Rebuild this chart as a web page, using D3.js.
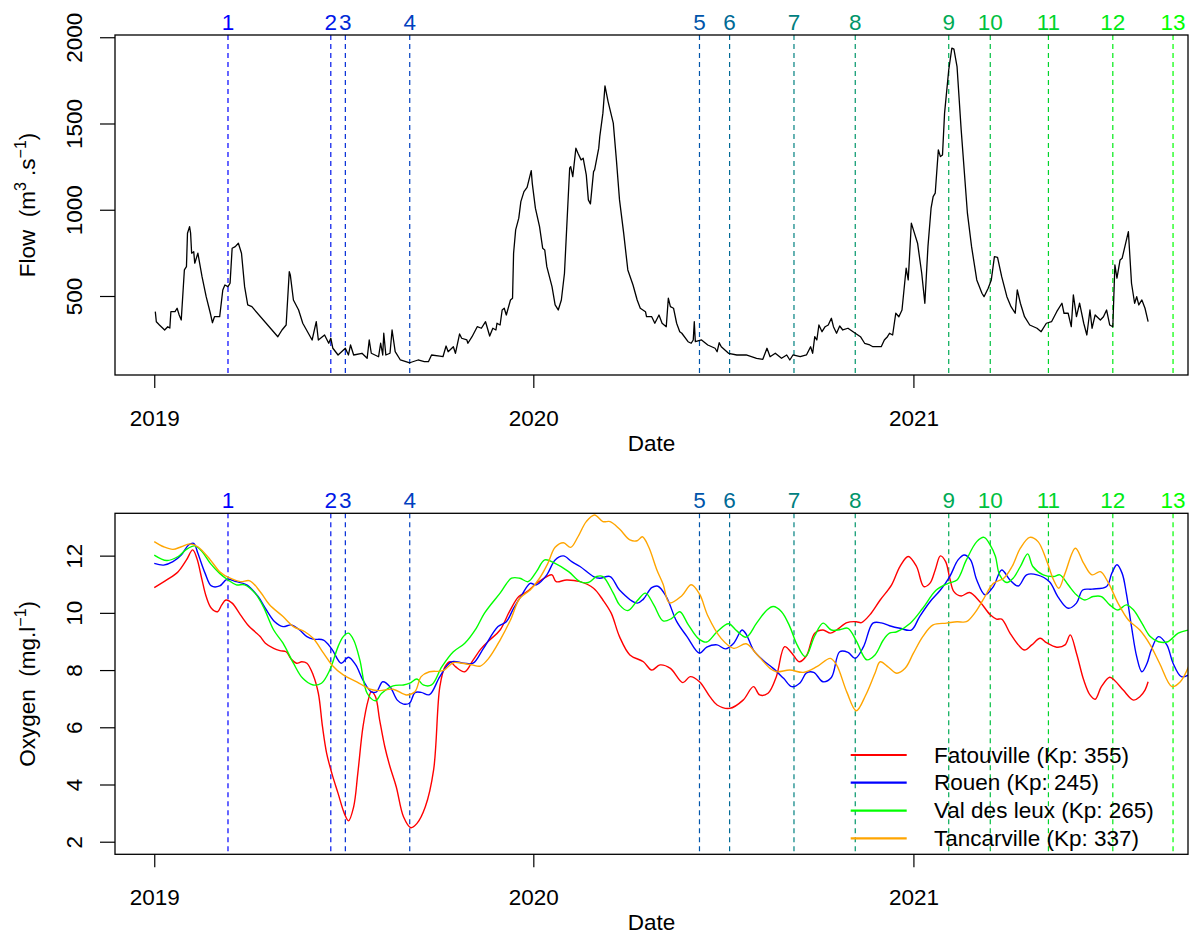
<!DOCTYPE html>
<html><head><meta charset="utf-8">
<script src="https://cdn.jsdelivr.net/npm/d3@7"></script>
<style>
body{margin:0;background:#fff}
text{font-family:"Liberation Sans",Arial,Helvetica,sans-serif;fill:#000}
</style>
</head><body>
<svg id="chart" width="1190" height="936"></svg>
<script>
// ---------- DATA ----------
const startDate = "2019-01-01";           // day 0 of the day arrays
const yearTicks = ["2019-01-01","2020-01-01","2021-01-01"];
const yearLabels = ["2019","2020","2021"];
const flowTicks = [500,1000,1500,2000];
const oxygenTicks = [2,4,6,8,10,12];

const eventDates = ["2019-03-13","2019-06-20","2019-07-04","2019-09-04","2020-06-09","2020-07-08",
  "2020-09-08","2020-11-06","2021-02-04","2021-03-16","2021-05-11","2021-07-12","2021-09-08"];
const eventLabels = ["1","2","3","4","5","6","7","8","9","10","11","12","13"];
const eventColors = ["#0000FF","#0015EA","#002BD5","#0040BF","#0055AA","#006A95","#008080",
  "#00956A","#00AA55","#00BF40","#00D42B","#00EA15","#00FF00"];

// Flow (m3/s), days since 2019-01-01
const flowDay = [1,2,5,10,13,15,16,20,22,24,26,29,31,32,34,35,36,38,39,42,46,50,54,56,58,63,66,68,71,73,75,78,81,84,87,90,94,
 119,123,127,130,131,134,139,143,152,156,158,164,168,170,172,177,184,187,189,192,200,205,207,209,216,218,220,221,223,227,229,232,237,246,254,260,
 264,267,275,278,281,283,288,290,294,296,301,302,306,311,315,319,323,326,329,330,333,335,337,339,343,345,346,348,351,353,356,359,363,364,367,371,374,376,378,383,386,389,392,395,398,400,401,403,406,408,411,413,416,418,420,423,424,428,429,432,434,437,442,445,448,452,456,461,465,468,473,474,479,482,486,489,493,495,497,500,503,506,
 508,514,517,519,520,521,527,533,540,542,544,546,553,561,570,580,586,590,593,598,604,609,612,615,622,628,632,634,636,638,640,643,646,649,652,654,657,660,663,668,675,680,684,689,692,700,703,706,708,711,714,717,720,
 724,726,729,731,735,739,742,745,748,750,752,755,757,759,761,765,768,770,773,777,783,787,792,797,799,803,806,809,812,816,821,825,829,831,834,838,843,850,854,859,864,869,874,876,880,883,885,888,891,895,898,901,903,906,911,914,917,920,923,925,927,930,932,935,938,941,944,946,948,951,954,957];
const flowValue = [409,351,332,303,322,314,409,409,429,390,361,651,670,864,902,864,748,757,690,748,612,496,400,345,380,380,535,564,554,574,777,786,806,748,554,448,438,
 264,303,332,641,622,477,419,342,245,351,245,274,226,255,197,158,197,158,216,158,168,139,245,168,148,226,158,284,158,168,303,177,129,113,129,119,
 119,158,152,148,210,177,206,168,280,255,245,226,264,322,313,351,268,313,303,342,332,419,429,390,477,487,748,883,951,1047,1105,1130,1227,1153,1009,902,777,767,670,554,448,419,477,632,999,1241,1250,1192,1357,1328,1289,1299,1202,1057,1034,1221,1231,1357,1424,1560,1718,1627,1502,1289,1057,864,651,564,477,429,409,380,380,342,390,342,322,487,438,429,342,293,
 284,235,226,245,351,235,245,216,197,177,229,206,168,158,158,139,133,197,148,168,139,158,129,158,148,158,206,168,264,245,332,293,322,332,371,322,284,326,303,313,284,264,226,216,206,206,245,264,284,274,400,380,419,
 661,593,922,883,806,632,458,786,1009,1076,1096,1347,1308,1318,1560,1810,1937,1931,1830,1463,980,786,593,516,496,545,593,728,724,612,496,438,400,535,458,380,332,313,293,342,351,409,458,400,400,322,506,380,458,342,274,419,313,390,361,380,419,332,322,680,603,709,719,796,873,574,458,496,448,477,429,351];

// Oxygen (mg/l), days since 2019-01-01
const fatouvilleDay = [0,12,23,31,37,41,46,50,55,61,65,69,75,83,91,97,102,107,115,121,127,132,137,142,147,153,158,162,166,171,177,183,187,192,196,201,206,209,213,217,222,227,233,240,247,253,261,269,275,280,285,290,299,307,315,323,333,342,351,359,368,378,383,387,397,410,423,432,440,448,458,471,479,487,497,509,516,525,535,542,554,567,577,583,591,599,607,614,621,628,636,644,651,657,667,676,681,689,699,710,718,726,734,741,747,752,757,762,766,770,777,785,795,805,811,816,824,832,838,845,853,859,869,877,882,888,895,901,906,912,920,925,933,943,949,954,957];
const fatouvilleO2 = [10.88,11.15,11.44,11.85,12.2,11.91,11.15,10.57,10.16,10.04,10.28,10.45,10.34,9.93,9.54,9.34,9.17,8.94,8.76,8.68,8.64,8.38,8.24,8.29,8.24,7.83,7.19,6.02,5.09,4.39,3.69,2.99,2.73,3.22,4.39,6.02,6.95,7.24,7.07,6.26,5.32,4.62,3.92,2.87,2.49,2.64,3.22,4.51,7.42,8.12,8.29,8.12,7.94,8.35,8.76,9.05,9.4,10.04,10.57,10.74,11.03,11.27,11.33,11.09,11.15,11.09,10.86,10.45,9.99,9.17,8.53,8.29,8.0,8.18,8.06,7.56,7.77,7.59,7.07,6.78,6.66,6.95,7.42,7.13,7.19,7.77,8.82,8.59,8.29,8.5,9.29,9.4,9.29,9.4,9.66,9.69,9.66,9.93,10.45,10.98,11.62,11.97,11.62,10.92,11.04,11.5,11.99,11.79,11.21,10.74,10.59,10.71,10.39,9.93,9.78,9.78,9.29,8.88,8.7,8.88,9.11,8.96,8.8,8.88,9.23,8.59,7.65,7.13,6.98,7.42,7.75,7.63,7.3,6.95,7.07,7.3,7.59];

const rouenDay = [0,9,18,26,33,38,42,49,55,63,70,79,89,100,108,116,124,132,140,147,153,163,171,180,187,194,201,209,214,220,227,234,240,246,251,257,265,275,286,298,307,317,331,339,346,354,362,368,378,386,394,402,410,423,429,439,448,465,471,479,485,493,503,513,525,532,542,550,558,566,570,577,586,596,606,614,622,628,635,644,652,660,668,675,683,692,700,708,718,729,737,747,757,766,774,780,786,792,800,808,816,824,832,840,850,862,870,880,888,894,903,917,922,927,932,936,941,946,951,956,960,967,975,981,989,996];
const rouenO2 = [11.73,11.67,11.79,12.02,12.37,12.43,12.08,11.38,10.94,10.94,11.17,11.09,10.98,10.57,10.1,9.69,9.52,9.58,9.4,9.17,9.08,9.05,8.73,8.24,8.45,8.18,7.65,7.24,7.24,7.59,7.42,6.95,6.81,6.85,7.21,7.22,7.14,7.77,8.29,8.24,8.24,8.76,9.52,9.69,10.16,10.63,11.03,10.98,11.33,11.85,11.99,11.79,11.62,11.27,11.21,11.27,10.8,10.34,10.48,10.88,10.93,10.57,9.7,9.17,8.59,8.8,8.88,8.74,8.94,9.4,9.25,8.7,8.35,8.06,7.71,7.42,7.56,7.9,7.92,7.59,7.74,8.64,8.62,8.41,8.82,9.64,9.65,9.55,9.46,9.4,9.87,10.39,10.8,11.27,11.85,12.02,11.85,11.15,10.63,10.92,11.5,11.15,10.94,11.33,11.33,11.09,10.57,10.16,10.34,10.8,10.83,10.92,11.38,11.68,11.38,10.69,9.52,8.47,7.94,8.24,8.7,9.17,8.88,8.24,7.77,7.83];

const valDesLeuxDay = [0,12,23,31,39,46,54,63,71,79,87,97,105,115,124,134,143,153,161,169,177,182,187,192,198,205,213,219,230,240,246,253,259,267,277,288,299,310,318,333,344,352,360,368,376,386,399,410,418,426,432,442,448,456,465,473,481,490,498,506,514,524,532,542,553,561,570,580,590,596,604,612,619,627,636,644,652,660,668,676,686,694,702,708,715,728,740,753,765,773,782,792,799,805,810,814,821,827,834,841,846,856,866,872,880,888,896,904,912,920,928,936,943,951,959,967,976,986,996];
const valDesLeuxO2 = [12.02,11.83,11.97,12.22,12.34,12.14,11.73,11.38,11.15,10.98,10.98,10.69,10.22,9.4,8.94,8.24,7.71,7.48,7.54,8.0,8.82,9.17,9.29,9.05,8.35,7.19,6.93,7.19,7.45,7.48,7.54,7.69,7.48,7.48,8.12,8.64,8.94,9.46,9.99,10.69,11.21,11.21,11.09,11.44,11.85,11.73,11.44,11.09,11.06,11.27,11.27,10.69,10.28,10.08,10.42,10.69,10.28,9.72,9.8,10.04,9.6,9.1,8.98,9.34,9.62,9.37,9.15,9.64,10.1,10.22,10.04,9.52,8.88,8.47,9.2,9.64,9.4,9.41,9.46,9.02,8.36,8.53,9.05,9.29,9.34,9.64,10.16,10.8,11.04,11.15,11.85,12.49,12.64,12.37,11.97,11.33,11.06,11.21,11.62,12.06,11.62,11.33,11.27,11.33,10.98,10.63,10.45,10.57,10.57,10.28,10.1,10.28,10.1,9.64,9.17,8.99,8.99,9.29,9.4];

const tancarvilleDay = [0,9,18,26,34,42,54,63,73,83,92,102,111,124,134,145,153,163,171,182,195,208,217,230,243,251,257,265,278,288,296,306,314,322,333,343,352,362,371,379,386,394,401,408,416,424,432,439,448,458,465,470,476,484,490,496,508,517,525,533,546,558,570,580,593,599,612,625,638,651,657,667,676,685,694,699,707,715,723,731,740,750,763,773,782,790,798,808,818,826,834,843,851,859,866,871,877,887,895,903,911,919,928,938,949,959,968,980,988,996];
const tancarvilleO2 = [12.49,12.31,12.22,12.31,12.41,12.31,11.85,11.44,11.21,11.09,11.12,10.74,10.28,9.87,9.52,9.34,9.11,8.59,8.18,7.83,7.59,7.33,7.28,7.33,7.13,7.24,7.77,7.94,7.98,8.26,8.24,8.18,8.14,8.41,9.05,9.75,10.51,10.8,11.21,11.73,12.29,12.45,12.29,12.66,13.19,13.42,13.19,13.19,12.93,12.55,12.52,12.66,12.31,11.5,11.0,10.35,10.6,10.98,10.66,9.9,9.1,8.76,8.92,8.56,8.06,7.94,8.0,7.92,8.12,8.41,8.18,7.22,6.58,7.12,7.89,8.29,8.1,7.89,8.06,8.59,9.17,9.58,9.64,9.69,9.69,9.99,10.45,11.03,11.21,11.62,12.26,12.64,12.49,11.85,11.15,10.86,11.38,12.26,11.73,11.33,11.44,11.03,10.34,9.75,9.4,8.88,8.24,7.42,7.59,8.12];

const seriesNames = ["Fatouville (Kp: 355)","Rouen (Kp: 245)","Val des leux (Kp: 265)","Tancarville (Kp: 337)"];
const seriesColors = ["#FF0000","#0000FF","#00FF00","#FFA500"];

// ---------- LAYOUT ----------
const svg = d3.select("#chart");
const L = 115, R = 1188;
const top1 = 35, bot1 = 375;
const top2 = 513.3, bot2 = 854.3;
const FS = "22.5px";

const t0 = d3.utcParse("%Y-%m-%d")(startDate);
const dayMs = 864e5;
const dayToDate = d => new Date(t0.getTime() + d * dayMs);
const parse = d3.utcParse("%Y-%m-%d");

const x = d3.scaleUtc()
  .domain([dayToDate(-37.8), dayToDate(995.4)])
  .range([L, R]);
const yFlow = d3.scaleLinear().domain([42, 2013]).range([bot1, top1]);
const yO2 = d3.scaleLinear().domain([1.56, 13.48]).range([bot2, top2]);

function clip(id, top, bot){
  svg.append("clipPath").attr("id", id).append("rect")
    .attr("x", L).attr("y", top).attr("width", R - L).attr("height", bot - top);
}
clip("c1", top1, bot1); clip("c2", top2, bot2);

function panel(top, bot, yScale, yTicks, clipId){
  // event lines
  const ev = svg.append("g");
  eventDates.forEach((d, i) => {
    const xx = x(parse(d));
    ev.append("line").attr("x1", xx).attr("x2", xx).attr("y1", top).attr("y2", bot)
      .attr("stroke", eventColors[i]).attr("stroke-width", 1.2).attr("stroke-dasharray", "5,4");
    ev.append("text").attr("x", xx).attr("y", top - 5.5).attr("text-anchor", "middle")
      .style("font-size", FS).style("fill", eventColors[i]).text(eventLabels[i]);
  });
  // y axis
  const ya = svg.append("g").attr("transform", `translate(${L},0)`)
    .call(d3.axisLeft(yScale).tickValues(yTicks).tickSize(15).tickFormat(d3.format("d")));
  ya.select(".domain").remove();
  ya.selectAll(".tick line").attr("stroke", "#000").attr("stroke-width", 1.2);
  ya.selectAll(".tick text").attr("transform", "rotate(-90)").attr("x", 0).attr("y", -33)
    .attr("dy", 0).attr("text-anchor", "middle").style("font-size", FS)
    .style("font-family", '"Liberation Sans",Arial,sans-serif').attr("fill", "#000");
  // x axis
  const xa = svg.append("g").attr("transform", `translate(0,${bot})`)
    .call(d3.axisBottom(x).tickValues(yearTicks.map(parse)).tickSize(13)
      .tickFormat((d, i) => yearLabels[i]));
  xa.select(".domain").remove();
  xa.selectAll(".tick line").attr("stroke", "#000").attr("stroke-width", 1.2);
  xa.selectAll(".tick text").attr("y", 51).attr("dy", 0).style("font-size", FS)
    .style("font-family", '"Liberation Sans",Arial,sans-serif').attr("fill", "#000");
  svg.append("text").attr("x", (L + R) / 2).attr("y", bot + 76).attr("text-anchor", "middle")
    .style("font-size", FS).text("Date");
}

panel(top1, bot1, yFlow, flowTicks, "c1");
panel(top2, bot2, yO2, oxygenTicks, "c2");

// flow line
const flowData = flowDay.map((d, i) => [dayToDate(d), flowValue[i]]);
svg.append("path").datum(flowData).attr("clip-path", "url(#c1)")
  .attr("fill", "none").attr("stroke", "#000").attr("stroke-width", 1.3).attr("stroke-linejoin", "round")
  .attr("d", d3.line().x(d => x(d[0])).y(d => yFlow(d[1])));

// oxygen lines
const o2Series = [
  [fatouvilleDay, fatouvilleO2],
  [rouenDay, rouenO2],
  [valDesLeuxDay, valDesLeuxO2],
  [tancarvilleDay, tancarvilleO2]
];
const o2Line = d3.line().x(d => x(d[0])).y(d => yO2(d[1])).curve(d3.curveCatmullRom.alpha(0.5));
o2Series.forEach((s, k) => {
  const data = s[0].map((d, i) => [dayToDate(d), s[1][i]]);
  svg.append("path").datum(data).attr("clip-path", "url(#c2)")
    .attr("fill", "none").attr("stroke", seriesColors[k]).attr("stroke-width", 1.4)
    .attr("d", o2Line);
});

// frames
[[top1, bot1], [top2, bot2]].forEach(([a, b]) => {
  svg.append("rect").attr("x", L).attr("y", a).attr("width", R - L).attr("height", b - a)
    .attr("fill", "none").attr("stroke", "#000").attr("stroke-width", 1.3);
});

// axis titles
function yTitle(cy, main, sup, mid, sup2){
  const t = svg.append("text").attr("transform", `translate(35,${cy}) rotate(-90)`)
    .attr("text-anchor", "middle").style("font-size", FS).style("white-space", "pre");
  t.append("tspan").text(main);
  if (sup) t.append("tspan").attr("dy", -9).style("font-size", "16px").text(sup);
  t.append("tspan").attr("dy", sup ? 9 : 0).text(mid);
  t.append("tspan").attr("dy", -9).style("font-size", "16px").text(sup2);
  t.append("tspan").attr("dy", 9).text(")");
}
yTitle((top1 + bot1) / 2, "Flow  (m", "3", " .s", "\u22121");
yTitle((top2 + bot2) / 2, "Oxygen  (mg.l", null, "", "\u22121");

// legend
const lg = svg.append("g");
const legY = [755, 782.7, 810.7, 838.3];
seriesNames.forEach((n, i) => {
  lg.append("line").attr("x1", 850.7).attr("x2", 906.7).attr("y1", legY[i]).attr("y2", legY[i])
    .attr("stroke", seriesColors[i]).attr("stroke-width", 2.2);
  lg.append("text").attr("x", 934).attr("y", legY[i] + 7.5).style("font-size", FS).text(n);
});
</script>
</body></html>
